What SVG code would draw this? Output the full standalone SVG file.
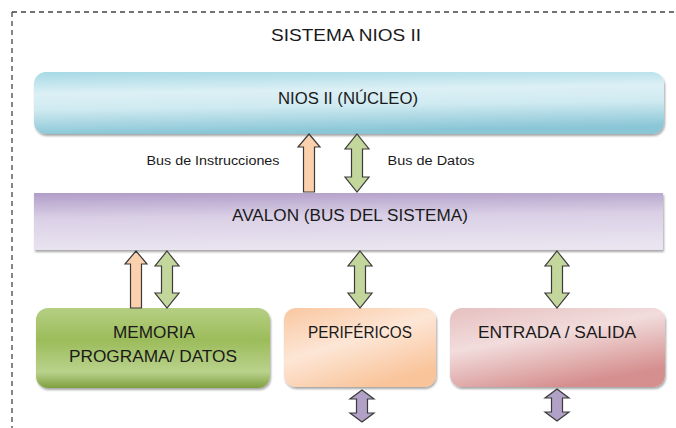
<svg xmlns="http://www.w3.org/2000/svg" width="676" height="428" viewBox="0 0 676 428">
<defs>
<style>
.t{font-family:"Liberation Sans","DejaVu Sans",sans-serif;fill:#1a1a1a;text-anchor:middle}
.big{font-size:16px}
.sm{font-size:12.5px}
.ar{stroke:#3a3a3a;stroke-width:1.2;stroke-linejoin:miter}
.or{fill:#fbd0ad}
.gr{fill:#c3d69b}
.pu{fill:#b2a1c7}
</style>
<linearGradient id="gBlue" x1="0" y1="0" x2="0.15" y2="1">
<stop offset="0" stop-color="#a6d9e5"/>
<stop offset="0.35" stop-color="#dcf0f5"/>
<stop offset="0.6" stop-color="#cfeaf1"/>
<stop offset="1" stop-color="#8ac6d6"/>
</linearGradient>
<linearGradient id="gPurple" x1="0" y1="0" x2="0.1" y2="1">
<stop offset="0" stop-color="#b19dc8"/>
<stop offset="0.45" stop-color="#dad0e6"/>
<stop offset="1" stop-color="#e9e4f0"/>
</linearGradient>
<linearGradient id="gGreen" x1="0" y1="0" x2="0" y2="1">
<stop offset="0" stop-color="#b5cf83"/>
<stop offset="0.4" stop-color="#9cbc5a"/>
<stop offset="0.8" stop-color="#b9d28c"/>
<stop offset="1" stop-color="#7f9f3e"/>
</linearGradient>
<linearGradient id="gOrange" x1="0" y1="0" x2="0.6" y2="1">
<stop offset="0" stop-color="#f9c7a0"/>
<stop offset="0.5" stop-color="#fde6d6"/>
<stop offset="1" stop-color="#f9c49a"/>
</linearGradient>
<linearGradient id="gRed" x1="0" y1="0" x2="0.5" y2="1">
<stop offset="0" stop-color="#e6c0c0"/>
<stop offset="0.45" stop-color="#f2dcdc"/>
<stop offset="1" stop-color="#d68f8f"/>
</linearGradient>
<filter id="sh" x="-5%" y="-10%" width="110%" height="125%">
<feDropShadow dx="1" dy="2" stdDeviation="1.2" flood-color="#000" flood-opacity="0.35"/>
</filter>
</defs>
<rect width="676" height="428" fill="#ffffff"/>

<g id="frame" fill="none" stroke="#444" stroke-width="1.3" stroke-dasharray="5 4">
<line x1="12" y1="12" x2="676" y2="12"/>
<line x1="12" y1="12" x2="12" y2="428"/>
</g>

<g id="title">
<text class="t" x="346" y="41" font-size="17" textLength="150" lengthAdjust="spacingAndGlyphs">SISTEMA NIOS II</text>
</g>

<g id="nios">
<rect x="34" y="72" width="630" height="62" rx="12" fill="url(#gBlue)" filter="url(#sh)"/>
<text class="t big" x="348" y="104" textLength="140" lengthAdjust="spacingAndGlyphs">NIOS II (NÚCLEO)</text>
</g>

<g id="avalon">
<rect x="34" y="193" width="629" height="57" fill="url(#gPurple)" filter="url(#sh)"/>
<text class="t big" x="350" y="221" textLength="236" lengthAdjust="spacingAndGlyphs">AVALON (BUS DEL SISTEMA)</text>
</g>

<g id="memoria">
<rect x="36" y="308" width="234" height="80" rx="12" fill="url(#gGreen)" filter="url(#sh)"/>
<text class="t big" x="154" y="338" textLength="82" lengthAdjust="spacingAndGlyphs">MEMORIA</text>
<text class="t big" x="153" y="362" textLength="168" lengthAdjust="spacingAndGlyphs">PROGRAMA/ DATOS</text>
</g>

<g id="perifericos">
<rect x="284" y="308" width="152" height="79" rx="12" fill="url(#gOrange)" filter="url(#sh)"/>
<text class="t big" x="360" y="338" textLength="104" lengthAdjust="spacingAndGlyphs">PERIFÉRICOS</text>
</g>

<g id="entrada">
<rect x="450" y="308" width="215" height="79" rx="12" fill="url(#gRed)" filter="url(#sh)"/>
<text class="t big" x="557" y="338" textLength="158" lengthAdjust="spacingAndGlyphs">ENTRADA / SALIDA</text>
</g>

<g id="labels">
<text class="t sm" x="213" y="165" textLength="133" lengthAdjust="spacingAndGlyphs">Bus de Instrucciones</text>
<text class="t sm" x="431" y="165" textLength="87" lengthAdjust="spacingAndGlyphs">Bus de Datos</text>
</g>

<g id="connectors">
<polygon class="ar or" points="309,134 320,147 314.5,147 314.5,192 303.5,192 303.5,147 298,147"/>
<polygon class="ar gr" points="357,134 369,149 362.5,149 362.5,177 369,177 357,192 345,177 351.5,177 351.5,149 345,149"/>
<polygon class="ar or" points="136,251 147,264 141.5,264 141.5,308 130.5,308 130.5,264 125,264"/>
<polygon class="ar gr" points="167,251 179,266 172.5,266 172.5,293 179,293 167,308 155,293 161.5,293 161.5,266 155,266"/>
<polygon class="ar gr" points="360,251 372,266 365.5,266 365.5,293 372,293 360,308 348,293 354.5,293 354.5,266 348,266"/>
<polygon class="ar gr" points="557,251 569,266 562.5,266 562.5,293 569,293 557,308 545,293 551.5,293 551.5,266 545,266"/>
<polygon class="ar pu" points="362,390 374,399 367.5,399 367.5,413 374,413 362,422 350,413 356.5,413 356.5,399 350,399"/>
<polygon class="ar pu" points="557,389 569,398 562.5,398 562.5,412 569,412 557,421 545,412 551.5,412 551.5,398 545,398"/>
</g>
</svg>
